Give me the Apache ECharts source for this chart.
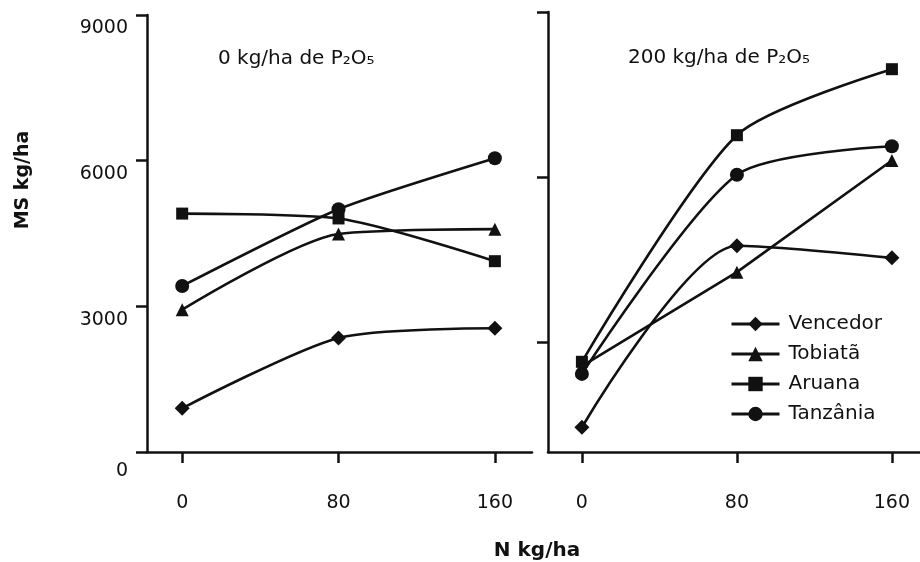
<!DOCTYPE html>
<html>
<head>
<meta charset="utf-8">
<title>MS kg/ha</title>
<script src="https://cdn.jsdelivr.net/npm/echarts@6/dist/echarts.min.js"></script>
<style>
  html, body { margin: 0; padding: 0; background: #fff; }
  #chart { width: 920px; height: 562px; }
</style>
</head>
<body>
<div id="chart"></div>
<script>
// N doses on the x axis
const nLevels = [0, 80, 160];
const cultivars = ['Vencedor', 'Tobiatã', 'Aruana', 'Tanzânia'];
const symbols = ['diamond', 'triangle', 'rect', 'circle'];
const symbolSizes = [15, 13, 12, 14];

// 0 kg/ha de P2O5
const p0Vencedor = [900, 2350, 2550];
const p0Tobiata = [2930, 4490, 4590];
const p0Aruana = [4910, 4810, 3930];
const p0Tanzania = [3420, 5000, 6050];

// 200 kg/ha de P2O5
const p200Vencedor = [1450, 4750, 4530];
const p200Tobiata = [2560, 4270, 6300];
const p200Aruana = [2640, 6760, 7960];
const p200Tanzania = [2420, 6040, 6560];

const yTicks = [0, 3000, 6000, 9000];

const FONT = 'DejaVu Sans';
const INK = '#111';

const toPairs = vals => nLevels.map((n, i) => [n, vals[i]]);

function makeSeries(vals, idx, gridIdx, smooth) {
    return {
        name: cultivars[idx],
        type: 'line',
        xAxisIndex: gridIdx,
        yAxisIndex: gridIdx,
        data: toPairs(vals),
        symbol: symbols[idx],
        symbolSize: symbolSizes[idx],
        smooth: smooth,
        lineStyle: { color: INK, width: 2.6 },
        itemStyle: { color: INK, borderWidth: 0 },
        z: 3
    };
}

const xAxisCommon = {
    type: 'value',
    axisLine: { show: true, onZero: false, lineStyle: { color: INK, width: 2.5 } },
    axisTick: { show: true, customValues: nLevels, length: 11, lineStyle: { color: INK, width: 2.5 } },
    axisLabel: { customValues: nLevels, margin: 42, fontFamily: FONT, fontSize: 19, color: INK },
    splitLine: { show: false }
};

const chart = echarts.init(document.getElementById('chart'), null, { renderer: 'canvas' });

chart.setOption({
    animation: false,
    backgroundColor: '#fff',
    grid: [
        { left: 147, top: 15, width: 385, height: 437 },
        { left: 548, top: 12, width: 372, height: 440 }
    ],
    xAxis: [
        Object.assign({}, xAxisCommon, { gridIndex: 0, min: -18, max: 179 }),
        Object.assign({}, xAxisCommon, { gridIndex: 1, min: -17.5, max: 174.5 })
    ],
    yAxis: [
        {
            type: 'value', gridIndex: 0, min: 0, max: 9000, interval: 3000,
            axisLine: { show: true, onZero: false, lineStyle: { color: INK, width: 2.5 } },
            axisTick: { show: true, customValues: yTicks, length: 11, lineStyle: { color: INK, width: 2.5 } },
            axisLabel: {
                customValues: yTicks,
                margin: 19, color: INK, verticalAlign: 'top',
                formatter: v => v === 0 ? '{z|0}' : '{n|' + v + '}',
                rich: {
                    n: { fontFamily: FONT, fontSize: 19, color: INK, padding: [4, 0, 0, 0] },
                    z: { fontFamily: FONT, fontSize: 19, color: INK, padding: [10, 0, 0, 0] }
                }
            },
            splitLine: { show: false }
        },
        {
            type: 'value', gridIndex: 1, min: 1000, max: 9000,
            axisLine: { show: true, onZero: false, lineStyle: { color: INK, width: 2.5 } },
            axisTick: { show: true, customValues: [3000, 6000, 9000], length: 11, lineStyle: { color: INK, width: 2.5 } },
            axisLabel: { show: false },
            splitLine: { show: false }
        }
    ],
    legend: {
        data: cultivars,
        orient: 'vertical',
        left: 730,
        top: 314,
        padding: 0,
        itemWidth: 48,
        itemHeight: 18,
        itemGap: 10,
        lineStyle: { width: 3 },
        textStyle: { fontFamily: FONT, fontSize: 20, color: INK, lineHeight: 20, padding: [0, 0, 0, 4] }
    },
    graphic: [
        {
            type: 'text', left: 218, top: 49,
            style: { text: '0 kg/ha de P₂O₅', font: '20px "DejaVu Sans"', fill: INK }
        },
        {
            type: 'text', left: 628, top: 48,
            style: { text: '200 kg/ha de P₂O₅', font: '20px "DejaVu Sans"', fill: INK }
        },
        {
            type: 'text', x: 23, y: 180, rotation: Math.PI / 2,
            style: { text: 'MS kg/ha', font: 'bold 19px "DejaVu Sans"', fill: INK, align: 'center', verticalAlign: 'middle' }
        },
        {
            type: 'text', x: 537, y: 551,
            style: { text: 'N kg/ha', font: 'bold 20px "DejaVu Sans"', fill: INK, align: 'center', verticalAlign: 'middle' }
        }
    ],
    series: [
        makeSeries(p0Vencedor, 0, 0, 0.25),
        makeSeries(p0Tobiata, 1, 0, 0.25),
        makeSeries(p0Aruana, 2, 0, 0.25),
        makeSeries(p0Tanzania, 3, 0, 0.2),
        makeSeries(p200Vencedor, 0, 1, 0.25),
        makeSeries(p200Tobiata, 1, 1, false),
        makeSeries(p200Aruana, 2, 1, 0.25),
        makeSeries(p200Tanzania, 3, 1, 0.25)
    ]
});
</script>
</body>
</html>
